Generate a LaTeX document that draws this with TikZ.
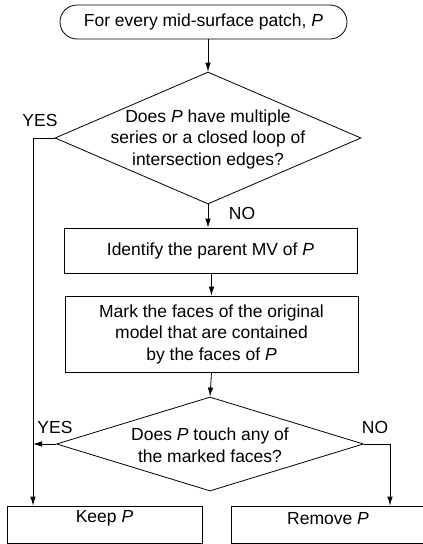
\documentclass[tikz,border=0pt]{standalone}
\usepackage{fontspec}
\setmainfont{Liberation Sans}
\usetikzlibrary{shapes.geometric,arrows.meta}
\begin{document}
\begin{tikzpicture}[x=1pt,y=-1pt,
  every node/.style={font=\fontsize{17.5}{21.5}\selectfont},
  box/.style={draw,line width=0.8pt,inner sep=0pt},
  dia/.style={draw,diamond,inner sep=0pt,line width=0.8pt},
  arr/.style={-{Latex[length=9pt,width=5.5pt]},line width=0.8pt},
  lbl/.style={inner sep=0pt}]
\useasboundingbox (0,0) rectangle (423,544);
\node[box,rounded corners=17pt,minimum width=287pt,minimum height=34pt] (start) at (203.5,22) {For every mid-surface patch, \textit{P}};
\node[dia,minimum width=306pt,minimum height=132pt,
  label={[align=center,yshift=-1pt]center:Does \textit{P} have multiple\\series or a closed loop of\\intersection edges?}] (d1) at (208,138) {};
\node[box,minimum width=293pt,minimum height=45pt] (b2) at (210.5,250.5) {Identify the parent MV of \textit{P}};
\node[box,minimum width=293pt,minimum height=76pt,align=center] (b3) at (211.5,334) {Mark the faces of the original\\model that are contained\\by the faces of \textit{P}};
\node[dia,minimum width=307pt,minimum height=94pt,
  label={[align=center,yshift=-1pt]center:Does \textit{P} touch any of\\the marked faces?}] (d2) at (210,444) {};
\node[box,minimum width=195pt,minimum height=37pt,
  label={[yshift=6pt]center:Keep \textit{P}}] (keep) at (104.5,524.5) {};
\node[box,minimum width=194pt,minimum height=37pt,
  label={[yshift=6pt]center:Remove \textit{P}}] (remove) at (328,524.5) {};
\coordinate (lx) at (33,137);
\coordinate (rx) at (390,444);
\draw[arr] (start.south -| d1.north) -- (d1.north);
\draw[arr] (d1.south) -- (d1.south |- b2.north);
\draw[arr] (b2.south -| b3.north) -- (b3.north);
\draw[arr] (b3.south) -- (d2.north);
\draw[arr] (d1.west) -- (d1.west -| lx) -- (keep.north -| lx);
\draw[arr] (d2.west) -- (d2.west -| lx);
\draw[arr] (d2.east) -- (rx) -- (rx |- remove.north);
\node[lbl] (yes1) at (40,120) {YES};
\node[lbl] (no1) at (242,213) {NO};
\node[lbl] (yes2) at (55,427) {YES};
\node[lbl] (no2) at (375,427) {NO};
\end{tikzpicture}
\end{document}
